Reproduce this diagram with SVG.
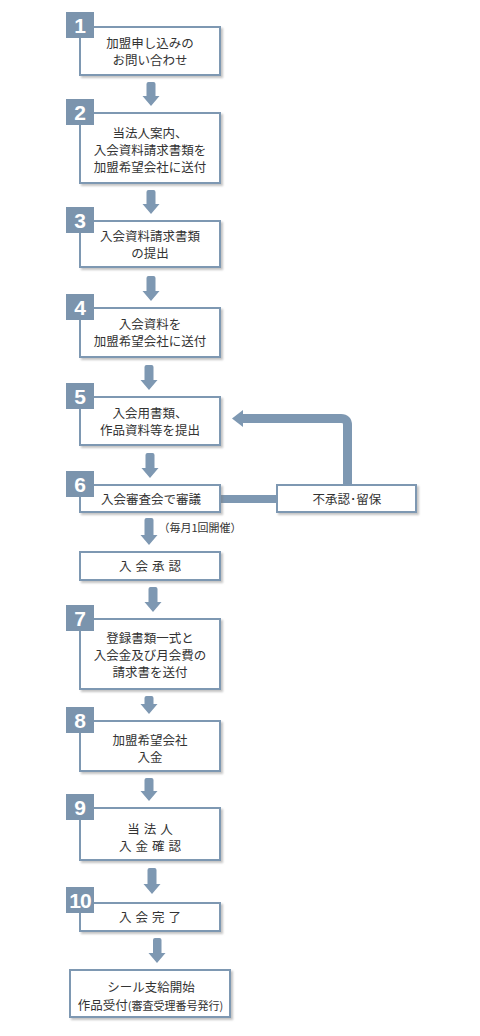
<svg xmlns="http://www.w3.org/2000/svg" width="480" height="1036" viewBox="0 0 480 1036">
<defs>
<filter id="sh" x="-10%" y="-10%" width="130%" height="140%">
<feDropShadow dx="2" dy="2" stdDeviation="1" flood-color="#7a7a7a" flood-opacity="0.45"/>
</filter>
<style>
.box{fill:#ffffff;stroke:#7e98b2;stroke-width:2;filter:url(#sh)}
.badge{fill:#7b94ad}
.num{font-family:"Liberation Sans",Arial,sans-serif;font-weight:bold;font-size:21px;fill:#ffffff;text-anchor:middle}
.t{font-family:"Noto Sans CJK JP","Noto Sans",sans-serif;font-size:12.5px;fill:#333333;text-anchor:middle}
.sp{letter-spacing:4px}
.arr{fill:#7e98b2}
</style>
</defs>
<rect width="480" height="1036" fill="#ffffff"/>
<g id="connectors">
<path class="arr" d="M146.5,84 Q146.5,82 148.5,82 L153.5,82 Q155.5,82 155.5,84 L155.5,96 L159.5,96 L151,106 L142.5,96 L146.5,96 Z"/>
<path class="arr" d="M146.5,192 Q146.5,190 148.5,190 L153.5,190 Q155.5,190 155.5,192 L155.5,204 L159.5,204 L151,214 L142.5,204 L146.5,204 Z"/>
<path class="arr" d="M146.5,278 Q146.5,276 148.5,276 L153.5,276 Q155.5,276 155.5,278 L155.5,291 L159.5,291 L151,301 L142.5,291 L146.5,291 Z"/>
<path class="arr" d="M144.5,367 Q144.5,365 146.5,365 L151.5,365 Q153.5,365 153.5,367 L153.5,380 L157.5,380 L149,390 L140.5,380 L144.5,380 Z"/>
<path class="arr" d="M145.5,455 Q145.5,453 147.5,453 L152.5,453 Q154.5,453 154.5,455 L154.5,468 L158.5,468 L150,478 L141.5,468 L145.5,468 Z"/>
<path class="arr" d="M144.5,520 Q144.5,518 146.5,518 L151.5,518 Q153.5,518 153.5,520 L153.5,535 L157.5,535 L149,545 L140.5,535 L144.5,535 Z"/>
<path class="arr" d="M148.5,589 Q148.5,587 150.5,587 L155.5,587 Q157.5,587 157.5,589 L157.5,602 L161.5,602 L153,612 L144.5,602 L148.5,602 Z"/>
<path class="arr" d="M144.5,698 Q144.5,696 146.5,696 L151.5,696 Q153.5,696 153.5,698 L153.5,704 L157.5,704 L149,714 L140.5,704 L144.5,704 Z"/>
<path class="arr" d="M144.5,780 Q144.5,778 146.5,778 L151.5,778 Q153.5,778 153.5,780 L153.5,791 L157.5,791 L149,801 L140.5,791 L144.5,791 Z"/>
<path class="arr" d="M147.5,870 Q147.5,868 149.5,868 L154.5,868 Q156.5,868 156.5,870 L156.5,884 L160.5,884 L152,894 L143.5,884 L147.5,884 Z"/>
<path class="arr" d="M153,940 Q153,938 155,938 L159.5,938 Q161.5,938 161.5,940 L161.5,953 L165.5,953 L157,963 L148.5,953 L153,953 Z"/>
<rect class="arr" x="221" y="495" width="55" height="8"/>
<path d="M347.5,484 V425 Q347.5,418.5 341,418.5 H241" fill="none" stroke="#7e98b2" stroke-width="9"/>
<polygon class="arr" points="232,418.5 243,410 243,427"/>
</g>
<g id="n1">
<rect class="box" x="80" y="27" width="140" height="48"/>
<rect class="badge" x="66" y="12" width="28" height="26"/>
<text class="num" x="80" y="33">1</text>
<text class="t" x="150" y="48">加盟申し込みの</text>
<text class="t" x="150" y="65">お問い合わせ</text>
</g>
<g id="n2">
<rect class="box" x="80" y="113" width="140" height="70"/>
<rect class="badge" x="66" y="99" width="28" height="26"/>
<text class="num" x="80" y="120">2</text>
<text class="t" x="150" y="137.5">当法人案内、</text>
<text class="t" x="150" y="154.5">入会資料請求書類を</text>
<text class="t" x="150" y="171.5">加盟希望会社に送付</text>
</g>
<g id="n3">
<rect class="box" x="80" y="221" width="140" height="46"/>
<rect class="badge" x="66" y="207" width="28" height="26"/>
<text class="num" x="80" y="228">3</text>
<text class="t" x="150" y="240.5">入会資料請求書類</text>
<text class="t" x="150" y="257.5">の提出</text>
</g>
<g id="n4">
<rect class="box" x="80" y="308" width="140" height="49"/>
<rect class="badge" x="66" y="294" width="28" height="26"/>
<text class="num" x="80" y="315">4</text>
<text class="t" x="150" y="329">入会資料を</text>
<text class="t" x="150" y="346">加盟希望会社に送付</text>
</g>
<g id="n5">
<rect class="box" x="80" y="397" width="140" height="48"/>
<rect class="badge" x="66" y="383" width="28" height="26"/>
<text class="num" x="80" y="404">5</text>
<text class="t" x="150" y="417.5">入会用書類、</text>
<text class="t" x="150" y="434.5">作品資料等を提出</text>
</g>
<g id="n6">
<rect class="box" x="80" y="485" width="140" height="27"/>
<rect class="badge" x="66" y="471" width="28" height="26"/>
<text class="num" x="80" y="492">6</text>
<text class="t" x="151" y="504">入会審査会で審議</text>
</g>
<g id="n6note">
<text class="t" x="200" y="532" style="font-size:11px">（毎月1回開催）</text>
</g>
<g id="nReject">
<rect class="box" x="277" y="485" width="139" height="27"/>
<text class="t" x="347" y="504">不承認･留保</text>
</g>
<g id="nApprove">
<rect class="box" x="80" y="552" width="140" height="28"/>
<text class="t sp" x="152" y="570.5">入会承認</text>
</g>
<g id="n7">
<rect class="box" x="80" y="619" width="140" height="70"/>
<rect class="badge" x="66" y="605" width="28" height="26"/>
<text class="num" x="80" y="626">7</text>
<text class="t" x="150" y="642.5">登録書類一式と</text>
<text class="t" x="150" y="659.5">入会金及び月会費の</text>
<text class="t" x="150" y="676.5">請求書を送付</text>
</g>
<g id="n8">
<rect class="box" x="80" y="721" width="140" height="50"/>
<rect class="badge" x="66" y="707" width="28" height="26"/>
<text class="num" x="80" y="728">8</text>
<text class="t" x="150" y="745">加盟希望会社</text>
<text class="t" x="150" y="762">入金</text>
</g>
<g id="n9">
<rect class="box" x="80" y="808" width="140" height="52"/>
<rect class="badge" x="66" y="794" width="28" height="26"/>
<text class="num" x="80" y="815">9</text>
<text class="t sp" x="152" y="834">当法人</text>
<text class="t sp" x="152" y="851">入金確認</text>
</g>
<g id="n10">
<rect class="box" x="80" y="903" width="140" height="28"/>
<rect class="badge" x="66" y="887" width="28" height="26"/>
<text class="num" x="80" y="908" style="letter-spacing:-1px">10</text>
<text class="t sp" x="152" y="921.5">入会完了</text>
</g>
<g id="n11">
<rect class="box" x="70" y="970" width="160" height="47"/>
<text class="t" x="151" y="991.5">シール支給開始</text>
<text class="t" x="150.5" y="1009.5">作品受付<tspan style="font-size:11px">(審査受理番号発行)</tspan></text>
</g>
</svg>
